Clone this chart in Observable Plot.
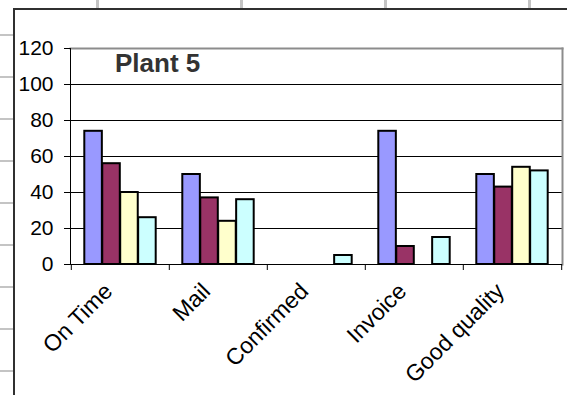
<!DOCTYPE html>
<html>
<head>
<meta charset="utf-8">
<script src="https://cdn.jsdelivr.net/npm/d3@7"></script>
<script src="https://cdn.jsdelivr.net/npm/@observablehq/plot@0.6"></script>
<style>
  html, body { margin: 0; padding: 0; background: #fff; }
  #wrap { position: relative; width: 567px; height: 395px; overflow: hidden; background: #fff;
          font-family: "Liberation Sans", Arial, sans-serif; }
  .hl { position: absolute; left: 0; width: 14px; height: 2px; background: #c4c4c4; }
  .vl { position: absolute; top: 0; width: 3px; height: 9px; background: #c4c4c4; }
  #chartArea { position: absolute; left: 13px; top: 8px; width: 620px; height: 420px;
               border-left: 2px solid #303030; border-top: 2px solid #303030; background: #fff; }
  #chart { position: absolute; left: 0; top: 0; }
  #title { position: absolute; left: 115px; top: 50px; font: bold 26px/26px "Liberation Sans", Arial, sans-serif;
           color: #333; white-space: nowrap; }
</style>
</head>
<body>
<div id="wrap">
  <div class="vl" style="left:96px"></div>
  <div class="vl" style="left:240px"></div>
  <div class="vl" style="left:384px"></div>
  <div class="vl" style="left:528px"></div>
  <div class="hl" style="top:34px"></div>
  <div class="hl" style="top:76px"></div>
  <div class="hl" style="top:118px"></div>
  <div class="hl" style="top:160px"></div>
  <div class="hl" style="top:202px"></div>
  <div class="hl" style="top:244px"></div>
  <div class="hl" style="top:286px"></div>
  <div class="hl" style="top:328px"></div>
  <div class="hl" style="top:370px"></div>
  <div id="chartArea"></div>
  <div id="chart"></div>
  <div id="title">Plant 5</div>
</div>
<script>
// ---- data ----
const categories = ["On Time", "Mail", "Confirmed", "Invoice", "Good quality"];
const seriesNames = ["Series 1", "Series 2", "Series 3", "Series 4"];
const series1 = [74, 50, 0, 74, 50];
const series2 = [56, 37, 0, 10, 43];
const series3 = [40, 24, 0, 0, 54];
const series4 = [26, 36, 5, 15, 52];
const yTicks = [0, 20, 40, 60, 80, 100, 120];
const colors = ["#9999FF", "#993366", "#FFFFCC", "#CCFFFF"];

// ---- layout ----
const width = 567, height = 395;
const marginLeft = 70, marginRight = 5, marginTop = 48, marginBottom = 131;
const band = (width - marginLeft - marginRight) / categories.length;
const gap = 13.3;
const barW = (band - 2 * gap) / seriesNames.length;

const allSeries = [series1, series2, series3, series4];
const barMarks = allSeries.map((vals, k) => {
  const rows = categories.map((c, i) => ({category: c, value: vals[i]}));
  return Plot.barY(rows, {
    x: "category",
    y: "value",
    filter: d => d.value > 0,
    fill: colors[k],
    stroke: "#000",
    strokeWidth: 2,
    insetLeft: gap + k * barW,
    insetRight: band - gap - (k + 1) * barW
  });
});

const chart = Plot.plot({
  width, height, marginLeft, marginRight, marginTop, marginBottom,
  style: {background: "transparent", color: "#000", fontFamily: "'Liberation Sans', Arial, sans-serif"},
  x: {type: "band", domain: categories, padding: 0, axis: null},
  y: {domain: [0, 120], axis: null},
  marks: [
    Plot.gridY(yTicks.filter(t => t > 0 && t < 120), {stroke: "#000", strokeOpacity: 1, strokeWidth: 1}),
    Plot.frame({anchor: "top", stroke: "#8c8c8c", strokeWidth: 2}),
    Plot.frame({anchor: "right", stroke: "#8c8c8c", strokeWidth: 2}),
    ...barMarks,
    Plot.ruleY([0], {stroke: "#000", strokeWidth: 1}),
    Plot.frame({anchor: "left", stroke: "#000", strokeWidth: 1}),
    Plot.axisY(yTicks, {tickSize: 6, tickPadding: 11, fontSize: 21, label: null}),
    Plot.axisX({tickSize: 6, tickFormat: () => "", dx: -band / 2, label: null}),
    Plot.axisX([categories[categories.length - 1]], {tickSize: 6, tickFormat: () => "", dx: band / 2, label: null}),
    Plot.text(categories, {
      x: d => d,
      frameAnchor: "bottom",
      rotate: -45,
      textAnchor: "end",
      lineAnchor: "middle",
      dx: -12,
      dy: 23,
      fontSize: 23,
      fill: "#000"
    })
  ]
});
document.getElementById("chart").appendChild(chart);
</script>
</body>
</html>
